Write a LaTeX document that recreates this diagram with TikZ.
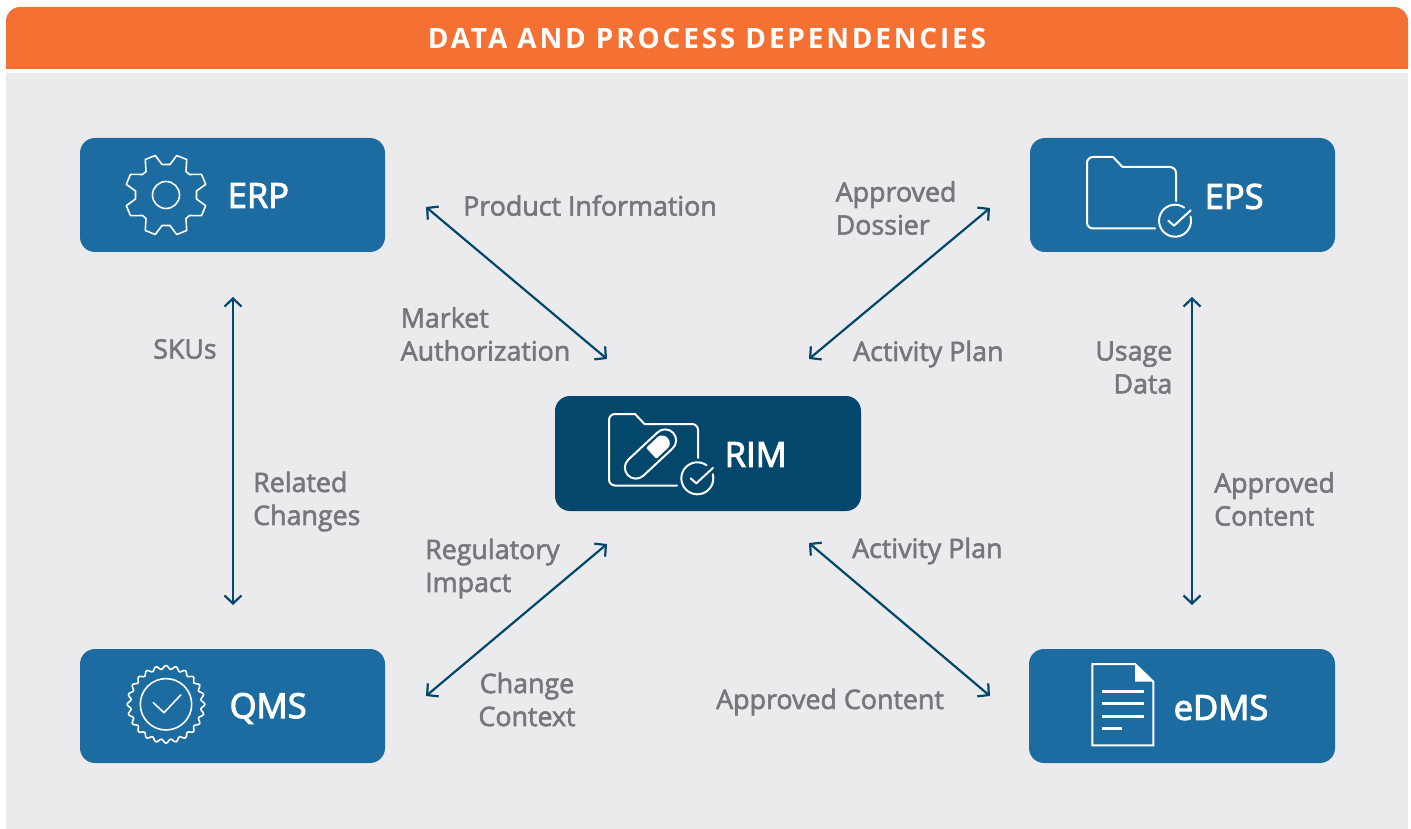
\documentclass[tikz,border=0pt]{standalone}
\usepackage{fontspec}
\usetikzlibrary{arrows.meta}
\setmainfont{Open Sans}
\newfontfamily\labfont[FakeBold=2.2]{Open Sans}
\newfontfamily\sysfont[FakeBold=3]{Open Sans}
\newfontfamily\titlefont[LetterSpace=10]{Open Sans Bold}
\definecolor{hdrorange}{HTML}{F47133}
\definecolor{panelgray}{HTML}{EBEBED}
\definecolor{sysblue}{HTML}{1C6BA1}
\definecolor{rimblue}{HTML}{03476C}
\definecolor{labgray}{HTML}{75777A}
\tikzset{
  x=1pt,y=-1pt,
  sysbox/.style={fill=sysblue,rounded corners=15pt,minimum width=305pt,minimum height=114pt,inner sep=0pt,draw=none},
  rimbox/.style={sysbox,fill=rimblue,minimum width=306pt,minimum height=115pt},
  systext/.style={text=white,anchor=west,inner sep=0pt,font=\sysfont\fontsize{34.5}{36}\selectfont},
  linklabel/.style={text=labgray,inner sep=0pt,anchor=west,align=left,font=\labfont\fontsize{26.8}{33}\selectfont},
  link/.style={draw=rimblue,line width=2.2pt,{Straight Barb[length=8pt,width=17pt]}-{Straight Barb[length=8pt,width=17pt]}},
  iconline/.style={draw=white,line width=2pt,line join=round,line cap=round},
  okmark/.pic={
    \draw[iconline] (9.2,-13.1) arc[start angle=55,end angle=375,radius=16pt];
    \draw[iconline] (-6.7,0) -- (-1,5) -- (15.7,-10.4);
  },
  folder/.pic={
    \draw[iconline] (68,71.5) -- (6,71.5) arc[start angle=270,end angle=180,radius=6pt] -- (0,6) arc[start angle=180,end angle=90,radius=6pt] -- (26,0) -- (35.5,10) -- (83,10) arc[start angle=90,end angle=0,radius=6pt] -- (89,44);
  }
}
\begin{document}
\begin{tikzpicture}
\useasboundingbox (0,0) rectangle (1411,829);
\fill[white] (0,0) rectangle (1411,829);
\fill[panelgray] (6,73) rectangle (1408,829);
\fill[hdrorange] (6,69) -- (6,21) arc[start angle=180,end angle=90,radius=14pt] -- (1394,7) arc[start angle=90,end angle=0,radius=14pt] -- (1408,69) -- cycle;
\node[text=white,inner sep=0pt,font=\titlefont\fontsize{28}{30}\selectfont] (title) at (707,38.5) {DATA AND PROCESS DEPENDENCIES};

\node[sysbox] (erp) at (232.5,195) {};
\node[sysbox] (eps) at (1182.5,195) {};
\node[rimbox] (rim) at (708,453.5) {};
\node[sysbox] (qms) at (232.5,706) {};
\node[sysbox,minimum width=306pt] (edms) at (1182,706) {};

\node[systext] (erpt) at (227.5,195.5) {ERP};
\node[systext] (epst) at (1204.5,196.5) {EPS};
\node[systext] (rimt) at (724.5,454.5) {RIM};
\node[systext] (qmst) at (229.5,708.5) {QMS};
\node[systext] (edmst) at (1173.5,707.5) {eDMS};

% gear
\begin{scope}[shift={(166,195)}]
\draw[iconline,line width=1.6pt] (-4,-30.5) -- (4,-30.5) -- (10.7,-39.5) -- (20.7,-35.5) -- (20,-23.5) -- (23.5,-20.5) -- (35.5,-20.7) -- (39.7,-10.7) -- (30.5,-4)
 -- (30.5,4) -- (39.7,10.7) -- (35.5,20.7) -- (23.5,20.5) -- (20,23.5) -- (20.7,35.5) -- (10.7,39.5) -- (4,30.5)
 -- (-4,30.5) -- (-10.7,39.5) -- (-20.7,35.5) -- (-20,23.5) -- (-23.5,20.5) -- (-35.5,20.7) -- (-39.7,10.7) -- (-30.5,4)
 -- (-30.5,-4) -- (-39.7,-10.7) -- (-35.5,-20.7) -- (-23.5,-20.5) -- (-20,-23.5) -- (-20.7,-35.5) -- (-10.7,-39.5) -- cycle;
\draw[iconline,line width=1.6pt] (0,0) circle[radius=13.5pt];
\end{scope}

% EPS folder
\pic at (1087,157) {folder};
\pic at (1175,220.7) {okmark};

% RIM folder and pill
\pic at (609,414) {folder};
\pic at (697.3,478.3) {okmark};
\begin{scope}[shift={(650.5,454)}]
\draw[iconline,rotate=43,rounded corners=11pt] (-31,-11) rectangle (31,11);
\fill[white,rotate=43,rounded corners=1pt] (1,-7.5) -- (16,-7.5) arc[start angle=90,end angle=-90,radius=7.5pt] -- (1,7.5) -- cycle;
\end{scope}

% QMS seal
\begin{scope}[shift={(166,704.3)}]
\draw[iconline,line width=1.6pt] plot[smooth cycle,samples=145,domain=0:357.5,variable=\t] ({(37+1.9*cos(24*\t))*cos(\t)},{(37+1.9*cos(24*\t))*sin(\t)});
\draw[iconline,line width=1.6pt] (0,0) circle[radius=25.7pt];
\draw[iconline,line width=1.6pt] (-12.7,-1.6) -- (-2,8.4) -- (14.7,-9.3);
\end{scope}

% document
\draw[iconline,line join=miter] (1092.3,664) -- (1135,664) -- (1153.3,681.7) -- (1153.3,745.3) -- (1092.3,745.3) -- cycle;
\fill[white] (1135,664) -- (1153.3,681.7) -- (1135,681.7) -- cycle;
\foreach \yy/\xe in {691.3/1144,703.3/1144,716.3/1144,728.3/1121.7}
  \draw[draw=white,line width=2.6pt] (1102.3,\yy) -- (\xe,\yy);

% connector ends
\coordinate (erpEnd) at (426,207);
\coordinate (rimNW) at (607,359);
\coordinate (epsEnd) at (990,208);
\coordinate (rimNE) at (809,359);
\coordinate (qmsEnd) at (426,696);
\coordinate (rimSW) at (607,544);
\coordinate (edmsEnd) at (990,696);
\coordinate (rimSE) at (809,543);
\coordinate (erpDown) at (233,297);
\coordinate (qmsUp) at (233,605);
\coordinate (epsDown) at (1192,297);
\coordinate (edmsUp) at (1192,605);
\draw[link] (erpEnd) -- (rimNW);
\draw[link] (epsEnd) -- (rimNE);
\draw[link] (qmsEnd) -- (rimSW);
\draw[link] (edmsEnd) -- (rimSE);
\draw[link] (erpDown) -- (qmsUp);
\draw[link] (epsDown) -- (edmsUp);

% labels
\node[linklabel] (l1) at (463,205.5) {Product Information};
\node[linklabel] (l2) at (400.5,334) {Market\\Authorization};
\node[linklabel] (l3) at (835.5,208) {Approved\\Dossier};
\node[linklabel] (l4) at (853,354) {Activity Plan};
\node[linklabel] (l5) at (153,349) {SKUs};
\node[linklabel] (l6) at (253,501.5) {Related\\Changes};
\node[linklabel,anchor=east,align=right] (l7) at (1172.5,367.5) {Usage\\Data};
\node[linklabel] (l8) at (1214,499) {Approved\\Content};
\node[linklabel] (l9) at (425,568.5) {Regulatory\\Impact};
\node[linklabel,anchor=center,align=center] (l10) at (527,699.5) {Change\\Context};
\node[linklabel] (l11) at (852,551) {Activity Plan};
\node[linklabel] (l12) at (716,702) {Approved Content};
\end{tikzpicture}
\end{document}
